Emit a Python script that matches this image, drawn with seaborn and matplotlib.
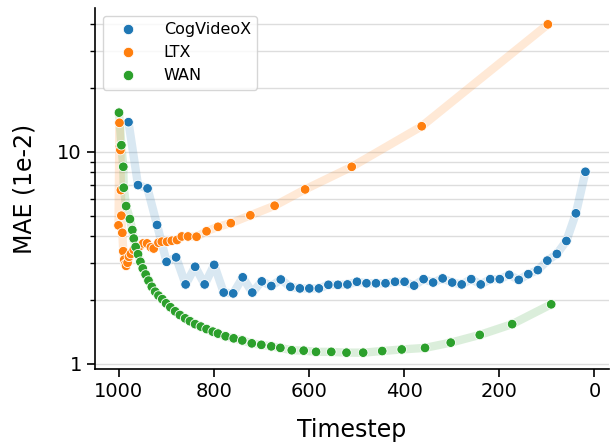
import matplotlib
matplotlib.use("Agg")
import matplotlib.pyplot as plt
from matplotlib.lines import Line2D
import numpy as np
import pandas as pd
import seaborn as sns
from matplotlib.ticker import FixedLocator, FuncFormatter, NullFormatter, LogLocator

# ---------------- data ----------------
cog_t = [979, 959, 939, 919, 899, 879, 859, 839, 819, 799, 779, 759, 739, 719, 699,
         679, 659, 639, 619, 599, 579, 559, 539, 519, 499, 479, 459, 439, 419, 399,
         379, 359, 339, 319, 299, 279, 259, 239, 219, 199, 179, 159, 139, 119, 99,
         79, 59, 39, 19]
cog_mae = [13.8, 6.97, 6.72, 4.52, 3.03, 3.18, 2.37, 2.87, 2.37, 2.93, 2.17, 2.15, 2.56, 2.17, 2.45,
           2.33, 2.50, 2.31, 2.27, 2.27, 2.27, 2.36, 2.36, 2.37, 2.44, 2.40, 2.40, 2.40, 2.44, 2.44,
           2.34, 2.51, 2.42, 2.53, 2.42, 2.37, 2.51, 2.37, 2.51, 2.51, 2.63, 2.49, 2.65, 2.77, 3.07,
           3.30, 3.80, 5.13, 8.05]

ltx_t = [1000, 998, 997, 996, 995, 994, 992, 990, 988, 986, 984, 981, 978, 974, 968,
         962, 955, 948, 940, 932, 926, 916, 909, 898, 888, 877, 867, 854, 836, 815,
         791, 764, 723, 672, 608, 510, 363, 98]
ltx_mae = [4.5, 13.7, 10.6, 10.2, 6.6, 5.0, 4.15, 3.4, 3.1, 2.95, 2.9, 3.0, 3.2, 3.3, 3.45,
           3.55, 3.6, 3.7, 3.7, 3.55, 3.5, 3.73, 3.77, 3.77, 3.81, 3.84, 3.99, 3.99, 3.98, 4.22,
           4.43, 4.61, 5.02, 5.57, 6.65, 8.50, 13.2, 39.9]

wan_t = [999, 994, 990, 989, 984, 976, 971, 968, 964, 959, 954, 949, 943, 937, 930,
         923, 916, 908, 900, 891, 881, 871, 860, 850, 839, 827, 815, 802, 791, 775,
         758, 740, 720, 700, 679, 660, 636, 611, 585, 553, 521, 486, 446, 405, 356,
         302, 241, 173, 91]
wan_mae = [15.3, 10.75, 8.5, 6.77, 5.55, 4.82, 4.28, 3.90, 3.56, 3.29, 3.03, 2.82, 2.64, 2.47, 2.31,
           2.19, 2.10, 2.02, 1.93, 1.85, 1.77, 1.70, 1.64, 1.59, 1.54, 1.50, 1.46, 1.42, 1.39, 1.35,
           1.32, 1.29, 1.25, 1.23, 1.21, 1.19, 1.16, 1.155, 1.14, 1.14, 1.13, 1.13, 1.15, 1.17, 1.19,
           1.26, 1.37, 1.54, 1.91]

models = ["CogVideoX", "LTX", "WAN"]
colors = ["#1f77b4", "#ff7f0e", "#2ca02c"]
y_major = [1, 10]

df = pd.concat([
    pd.DataFrame({"Timestep": cog_t, "MAE": cog_mae, "model": "CogVideoX"}),
    pd.DataFrame({"Timestep": ltx_t, "MAE": ltx_mae, "model": "LTX"}),
    pd.DataFrame({"Timestep": wan_t, "MAE": wan_mae, "model": "WAN"}),
], ignore_index=True)

sns.set_style("ticks", {"axes.edgecolor": "black", "xtick.color": "black",
                        "ytick.color": "black", "text.color": "black",
                        "axes.labelcolor": "black"})
plt.rcParams["font.family"] = ["DejaVu Sans"]

fig, ax = plt.subplots(figsize=(6.1, 4.42), dpi=100)
fig.subplots_adjust(left=0.156, right=0.998, bottom=0.165, top=0.982)

palette = dict(zip(models, colors))
sns.lineplot(data=df, x="Timestep", y="MAE", hue="model", hue_order=models,
             palette=palette, linewidth=6, alpha=0.17, legend=False, ax=ax)
sns.scatterplot(data=df, x="Timestep", y="MAE", hue="model", hue_order=models,
                palette=palette, s=48, edgecolor="white", linewidth=0.6, ax=ax,
                zorder=3, legend=False)

ax.set_yscale("log")
ax.invert_xaxis()
ax.yaxis.set_major_locator(FixedLocator(y_major))
ax.yaxis.set_major_formatter(FuncFormatter(lambda v, p: f"{v:g}"))
ax.yaxis.set_minor_locator(LogLocator(base=10, subs=np.arange(2, 10)))
ax.yaxis.set_minor_formatter(NullFormatter())
ax.grid(True, axis="y", which="both", color="#dddddd", linewidth=1)
ax.grid(False, axis="x")
ax.set_axisbelow(True)

ax.set_xlabel("Timestep", fontsize=17, labelpad=12)
ax.set_ylabel("MAE (1e-2)", fontsize=17, labelpad=15)
ax.tick_params(axis="both", which="major", labelsize=14, length=6, width=1.2)
ax.tick_params(axis="y", which="minor", length=3.5, width=1.0)
for s in ["left", "bottom"]:
    ax.spines[s].set_linewidth(1.2)
sns.despine(ax=ax)

handles = [Line2D([0], [0], marker="o", linestyle="", markersize=7.5,
                  markerfacecolor=c, markeredgecolor="white", markeredgewidth=0.6)
           for c in colors]
ax.legend(handles, models, loc="upper left", fontsize=11.5, frameon=True,
          handlelength=2.3, handletextpad=1.1)

fig.savefig("out.png", dpi=100)
